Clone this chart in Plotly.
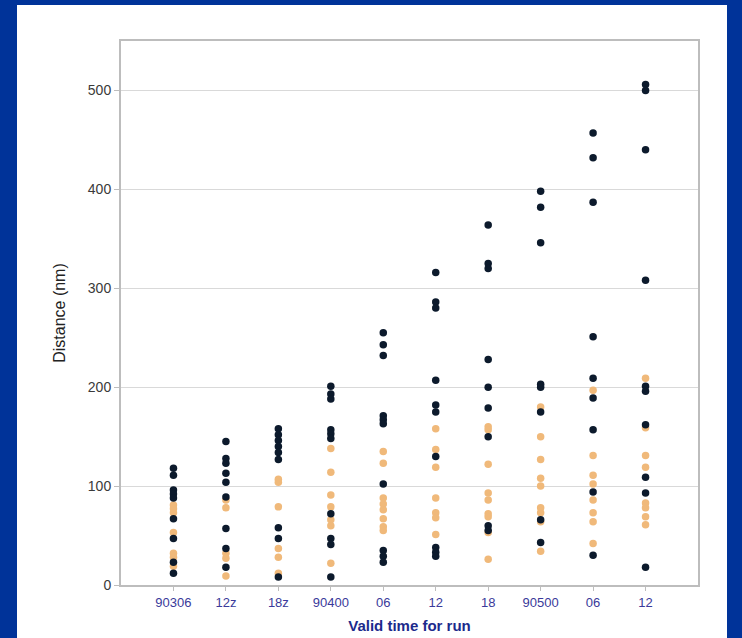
import plotly.graph_objects as go

# Categories (valid time for run)
categories = ["90306", "12z", "18z", "90400", "06", "12", "18", "90500", "06", "12"]

# Dark (navy) points per category
dark_values = [
    [118, 111, 96, 92, 88, 67, 47, 23, 12],
    [145, 128, 123, 113, 104, 89, 57, 37, 18],
    [158, 152, 146, 140, 134, 127, 58, 47, 8],
    [201, 193, 188, 157, 153, 148, 72, 47, 41, 8],
    [255, 243, 232, 171, 167, 163, 102, 35, 29, 23],
    [316, 286, 280, 207, 182, 175, 130, 38, 33, 29],
    [364, 325, 320, 228, 200, 179, 150, 60, 55],
    [398, 382, 346, 203, 200, 175, 66, 43],
    [457, 432, 387, 251, 209, 189, 157, 94, 30],
    [506, 500, 440, 308, 201, 196, 162, 109, 93, 18],
]

# Tan (orange) points per category
tan_values = [
    [81, 77, 73, 53, 32, 28, 19],
    [86, 78, 32, 27, 9],
    [107, 104, 79, 37, 28, 12],
    [138, 114, 91, 79, 66, 60, 22],
    [135, 123, 88, 82, 76, 67, 59, 55],
    [158, 137, 119, 88, 73, 68, 51],
    [160, 157, 122, 93, 86, 72, 69, 53, 26],
    [180, 150, 127, 108, 100, 78, 73, 64, 34],
    [197, 131, 111, 102, 86, 73, 64, 42],
    [209, 159, 131, 119, 83, 78, 69, 61],
]

y_ticks = [0, 100, 200, 300, 400, 500]

def flatten(groups):
    xs, ys = [], []
    for i, vals in enumerate(groups):
        for v in vals:
            xs.append(i)
            ys.append(v)
    return xs, ys

tx, ty = flatten(tan_values)
dx, dy = flatten(dark_values)

fig = go.Figure()
fig.add_trace(go.Scatter(x=tx, y=ty, mode="markers",
                         marker=dict(size=7.5, color="#f0b97a", line=dict(width=0)),
                         showlegend=False, hoverinfo="y"))
fig.add_trace(go.Scatter(x=dx, y=dy, mode="markers",
                         marker=dict(size=7.5, color="#0c1a2c", line=dict(width=0)),
                         showlegend=False, hoverinfo="y"))

L, R, T, B = 121, 44, 41, 53
W, H = 742, 638
pw, ph = W - L - R, H - T - B

fig.add_shape(type="rect", xref="paper", yref="paper", layer="below",
              x0=(17 - L) / pw, x1=(727 - L) / pw,
              y0=(H - B - 645) / ph, y1=(H - B - 5) / ph,
              fillcolor="white", line=dict(width=0))

fig.update_layout(
    width=W, height=H,
    margin=dict(l=L, r=R, t=T, b=B, pad=0, autoexpand=False),
    paper_bgcolor="#003399",
    plot_bgcolor="white",
    font=dict(family="Liberation Sans, Arial, sans-serif", color="#333333"),
    xaxis=dict(
        range=[-1, 10], tickmode="array", automargin=False,
        tickvals=list(range(len(categories))), ticktext=categories,
        showgrid=False, zeroline=False,
        showline=True, linecolor="#bdbdbd", linewidth=2, mirror=True,
        ticks="outside", ticklen=4, tickcolor="#bdbdbd",
        tickfont=dict(size=13, color="#3a3a9a"),
        title=dict(text="Valid time for run", standoff=12,
                   font=dict(size=15, color="#1c2a8c", family="Liberation Sans, Arial, sans-serif")),
    ),
    yaxis=dict(
        range=[0, 550], tickmode="array", tickvals=y_ticks, automargin=False,
        showgrid=True, gridcolor="#d9d9d9", gridwidth=1, zeroline=False,
        showline=True, linecolor="#bdbdbd", linewidth=2, mirror=True,
        ticks="outside", ticklen=5, tickcolor="#bdbdbd",
        tickfont=dict(size=14, color="#3a3a3a"),
        title=dict(text="Distance (nm)", standoff=18,
                   font=dict(size=16, color="#222222")),
    ),
)
fig.update_layout(xaxis_title_font_weight="bold")

fig.write_html(
    "out.html",
    config={"displayModeBar": False},
    post_script="document.body.style.margin='0';document.body.style.background='#003399';",
)
